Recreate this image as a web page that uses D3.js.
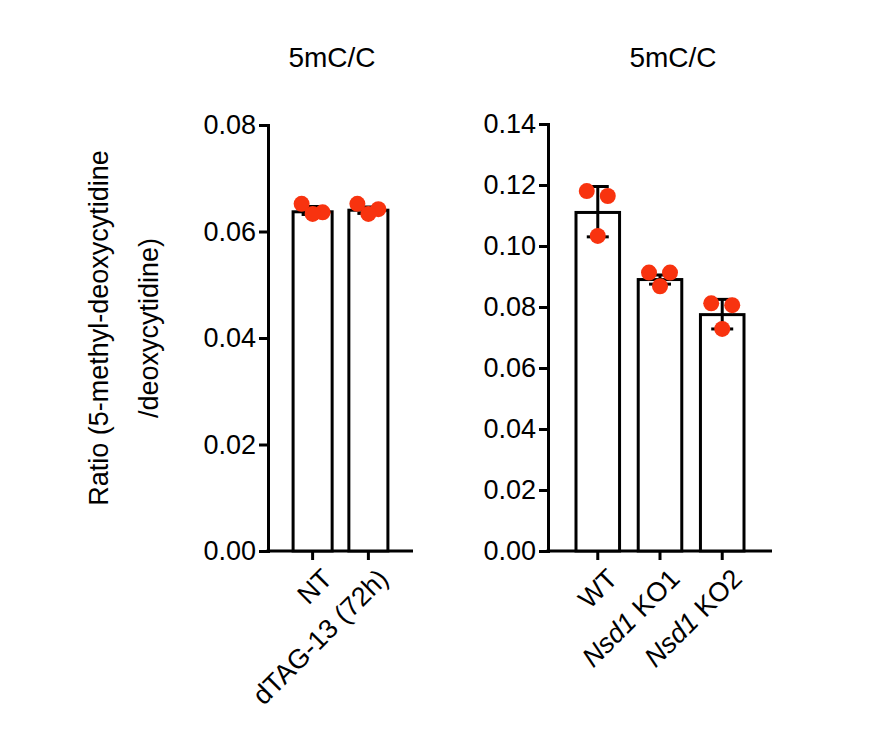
<!DOCTYPE html>
<html><head><meta charset="utf-8">
<script src="https://cdn.jsdelivr.net/npm/d3@7"></script>
<style>body{margin:0;background:#fff}text{font-family:Arial,"Liberation Sans",sans-serif}</style>
</head><body>
<div id="chart"></div>
<script>
// left panel
var left_cats = ["NT", "dTAG-13 (72h)"];
var left_means = [0.0637, 0.0640];
var left_err = [[0.0632, 0.0647], [0.0634, 0.0646]];
var left_points = [[0.0652, 0.0636, 0.0633], [0.0652, 0.0642, 0.0633]];
var left_ticks = [0, 0.02, 0.04, 0.06, 0.08];

// right panel
var right_cats = ["WT", "Nsd1 KO1", "Nsd1 KO2"];
var right_means = [0.1110, 0.0890, 0.0775];
var right_err = [[0.1030, 0.1195], [0.0875, 0.0905], [0.0728, 0.0825]];
var right_points = [[0.1180, 0.1164, 0.1033], [0.0913, 0.0913, 0.0868], [0.0812, 0.0806, 0.0728]];
var right_ticks = [0, 0.02, 0.04, 0.06, 0.08, 0.10, 0.12, 0.14];

var W = 889, H = 733;
var svg = d3.select("#chart").append("svg").attr("width", W).attr("height", H);

function draw_panel (cfg) {
	var y = d3.scaleLinear().domain([0, cfg.max]).range([551, cfg.top]);
	var x = d3.scaleBand().domain(cfg.cats).range([cfg.x0, cfg.x1]).paddingInner(0.3).paddingOuter(0.45);
	var g = svg.append("g");

	var ax = g.append("g").attr("transform", "translate(" + cfg.axisX + ",0)")
		.call(d3.axisLeft(y).tickValues(cfg.ticks).tickFormat(d3.format(".2f")).tickSize(9).tickPadding(3));
	ax.attr("font-size", null).attr("font-family", null);
	ax.select(".domain").attr("stroke-width", 3);
	ax.selectAll(".tick line").attr("stroke-width", 3);
	ax.selectAll("text").style("font-size", "27px").attr("fill", "#000");

	var xa = g.append("g").attr("transform", "translate(0,551)");
	xa.append("line").attr("x1", cfg.axisX - 1.5).attr("x2", cfg.x1).attr("stroke", "#000").attr("stroke-width", 3);
	cfg.cats.forEach(function (c) {
		var cx = x(c) + x.bandwidth() / 2;
		xa.append("line").attr("x1", cx).attr("x2", cx).attr("y1", 0).attr("y2", 9).attr("stroke", "#000").attr("stroke-width", 3);
		var t = xa.append("text").attr("transform", "translate(" + (cx + 8) + ",16) rotate(-45)")
			.attr("text-anchor", "end").attr("dy", "0.7em").style("font-size", "27px");
		var parts = c.split(" ");
		if (parts[0] == "Nsd1") {
			t.append("tspan").attr("font-style", "italic").text("Nsd1");
			t.append("tspan").text(" " + parts.slice(1).join(" "));
		} else {
			t.text(c);
		}
	});

	g.selectAll("rect.bar").data(cfg.means).enter().append("rect")
		.attr("x", function (d, i) { return x(cfg.cats[i]); })
		.attr("y", function (d) { return y(d); })
		.attr("width", x.bandwidth())
		.attr("height", function (d) { return 551 - y(d); })
		.attr("fill", "#fff").attr("stroke", "#000").attr("stroke-width", 3);

	cfg.err.forEach(function (e, i) {
		var cx = x(cfg.cats[i]) + x.bandwidth() / 2;
		g.append("line").attr("x1", cx).attr("x2", cx).attr("y1", y(e[0])).attr("y2", y(e[1])).attr("stroke", "#000").attr("stroke-width", 3);
		[e[0], e[1]].forEach(function (v) {
			g.append("line").attr("x1", cx - 11).attr("x2", cx + 11).attr("y1", y(v)).attr("y2", y(v)).attr("stroke", "#000").attr("stroke-width", 3);
		});
	});

	var offs = [-11, 10, 0];
	cfg.points.forEach(function (pts, i) {
		var cx = x(cfg.cats[i]) + x.bandwidth() / 2;
		pts.forEach(function (v, j) {
			g.append("circle").attr("cx", cx + offs[j]).attr("cy", y(v)).attr("r", 8).attr("fill", "#f8330f");
		});
	});

	g.append("text").attr("x", cfg.titleX).attr("y", 67).attr("text-anchor", "middle").style("font-size", "28px").text("5mC/C");
}

draw_panel({cats: left_cats, means: left_means, err: left_err, points: left_points, ticks: left_ticks,
	max: 0.08, top: 125, axisX: 268, x0: 268, x1: 413, titleX: 332});
draw_panel({cats: right_cats, means: right_means, err: right_err, points: right_points, ticks: right_ticks,
	max: 0.14, top: 124, axisX: 548, x0: 548, x1: 772, titleX: 673});

svg.append("text").attr("transform", "translate(108,328) rotate(-90)").attr("text-anchor", "middle").style("font-size", "27px")
	.text("Ratio (5-methyl-deoxycytidine");
svg.append("text").attr("transform", "translate(158,328) rotate(-90)").attr("text-anchor", "middle").style("font-size", "27px")
	.text("/deoxycytidine)");
</script>
</body></html>
